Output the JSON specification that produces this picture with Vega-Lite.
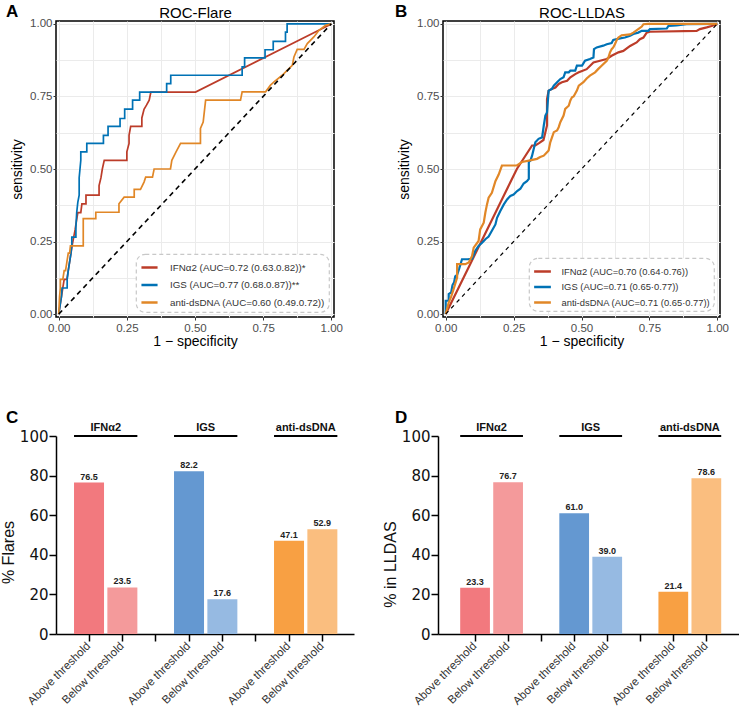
{
"$schema": "https://vega.github.io/schema/vega-lite/v6.json",
"padding": {"left": 0, "top": 2, "right": 0, "bottom": 0},
"bounds": "flush",
"spacing": 415,
"resolve": {"scale": {"color": "independent"}, "legend": {"color": "independent"}},
"config": {
  "font": "Liberation Sans",
  "view": {"stroke": null},
  "axis": {"labelOverlap": false},
  "title": {"anchor": "start", "frame": "group", "fontSize": 17, "fontWeight": "bold", "color": "black", "offset": 0, "font": "Liberation Sans"}
},
"datasets": {
"rocA": [
{"s":"IFNα2","i":0,"x":0,"y":0},{"s":"IFNα2","i":1,"x":0.005,"y":0.03},{"s":"IFNα2","i":2,"x":0.01,"y":0.06},{"s":"IFNα2","i":3,"x":0.015,"y":0.09},{"s":"IFNα2","i":4,"x":0.02,"y":0.12},{"s":"IFNα2","i":5,"x":0.03,"y":0.12},{"s":"IFNα2","i":6,"x":0.035,"y":0.15},{"s":"IFNα2","i":7,"x":0.04,"y":0.18},{"s":"IFNα2","i":8,"x":0.045,"y":0.21},{"s":"IFNα2","i":9,"x":0.05,"y":0.24},{"s":"IFNα2","i":10,"x":0.055,"y":0.265},{"s":"IFNα2","i":11,"x":0.06,"y":0.29},{"s":"IFNα2","i":12,"x":0.065,"y":0.32},{"s":"IFNα2","i":13,"x":0.07,"y":0.35},{"s":"IFNα2","i":14,"x":0.081,"y":0.35},{"s":"IFNα2","i":15,"x":0.085,"y":0.38},{"s":"IFNα2","i":16,"x":0.1,"y":0.38},{"s":"IFNα2","i":17,"x":0.1,"y":0.41},{"s":"IFNα2","i":18,"x":0.148,"y":0.41},{"s":"IFNα2","i":19,"x":0.148,"y":0.443},{"s":"IFNα2","i":20,"x":0.155,"y":0.47},{"s":"IFNα2","i":21,"x":0.16,"y":0.5},{"s":"IFNα2","i":22,"x":0.167,"y":0.53},{"s":"IFNα2","i":23,"x":0.25,"y":0.53},{"s":"IFNα2","i":24,"x":0.25,"y":0.559},{"s":"IFNα2","i":25,"x":0.258,"y":0.588},{"s":"IFNα2","i":26,"x":0.258,"y":0.616},{"s":"IFNα2","i":27,"x":0.264,"y":0.647},{"s":"IFNα2","i":28,"x":0.305,"y":0.647},{"s":"IFNα2","i":29,"x":0.305,"y":0.676},{"s":"IFNα2","i":30,"x":0.313,"y":0.706},{"s":"IFNα2","i":31,"x":0.322,"y":0.72},{"s":"IFNα2","i":32,"x":0.332,"y":0.737},{"s":"IFNα2","i":33,"x":0.338,"y":0.765},{"s":"IFNα2","i":34,"x":0.502,"y":0.765},{"s":"IFNα2","i":35,"x":1,"y":1},
{"s":"IGS","i":0,"x":0,"y":0},{"s":"IGS","i":1,"x":0.005,"y":0.03},{"s":"IGS","i":2,"x":0.01,"y":0.06},{"s":"IGS","i":3,"x":0.012,"y":0.09},{"s":"IGS","i":4,"x":0.031,"y":0.09},{"s":"IGS","i":5,"x":0.031,"y":0.12},{"s":"IGS","i":6,"x":0.035,"y":0.15},{"s":"IGS","i":7,"x":0.04,"y":0.18},{"s":"IGS","i":8,"x":0.045,"y":0.21},{"s":"IGS","i":9,"x":0.048,"y":0.24},{"s":"IGS","i":10,"x":0.048,"y":0.265},{"s":"IGS","i":11,"x":0.063,"y":0.265},{"s":"IGS","i":12,"x":0.063,"y":0.3},{"s":"IGS","i":13,"x":0.066,"y":0.35},{"s":"IGS","i":14,"x":0.07,"y":0.385},{"s":"IGS","i":15,"x":0.075,"y":0.41},{"s":"IGS","i":16,"x":0.075,"y":0.47},{"s":"IGS","i":17,"x":0.078,"y":0.5},{"s":"IGS","i":18,"x":0.081,"y":0.53},{"s":"IGS","i":19,"x":0.081,"y":0.559},{"s":"IGS","i":20,"x":0.103,"y":0.559},{"s":"IGS","i":21,"x":0.103,"y":0.588},{"s":"IGS","i":22,"x":0.164,"y":0.588},{"s":"IGS","i":23,"x":0.164,"y":0.616},{"s":"IGS","i":24,"x":0.181,"y":0.616},{"s":"IGS","i":25,"x":0.181,"y":0.647},{"s":"IGS","i":26,"x":0.225,"y":0.647},{"s":"IGS","i":27,"x":0.225,"y":0.674},{"s":"IGS","i":28,"x":0.242,"y":0.674},{"s":"IGS","i":29,"x":0.242,"y":0.706},{"s":"IGS","i":30,"x":0.271,"y":0.706},{"s":"IGS","i":31,"x":0.271,"y":0.737},{"s":"IGS","i":32,"x":0.297,"y":0.737},{"s":"IGS","i":33,"x":0.297,"y":0.765},{"s":"IGS","i":34,"x":0.396,"y":0.765},{"s":"IGS","i":35,"x":0.396,"y":0.794},{"s":"IGS","i":36,"x":0.411,"y":0.794},{"s":"IGS","i":37,"x":0.411,"y":0.823},{"s":"IGS","i":38,"x":0.673,"y":0.823},{"s":"IGS","i":39,"x":0.673,"y":0.852},{"s":"IGS","i":40,"x":0.682,"y":0.852},{"s":"IGS","i":41,"x":0.682,"y":0.883},{"s":"IGS","i":42,"x":0.757,"y":0.883},{"s":"IGS","i":43,"x":0.757,"y":0.911},{"s":"IGS","i":44,"x":0.787,"y":0.911},{"s":"IGS","i":45,"x":0.787,"y":0.94},{"s":"IGS","i":46,"x":0.832,"y":0.94},{"s":"IGS","i":47,"x":0.832,"y":0.972},{"s":"IGS","i":48,"x":0.838,"y":0.972},{"s":"IGS","i":49,"x":0.838,"y":1},{"s":"IGS","i":50,"x":1,"y":1},
{"s":"anti-dsDNA","i":0,"x":0,"y":0},{"s":"anti-dsDNA","i":1,"x":0.003,"y":0.06},{"s":"anti-dsDNA","i":2,"x":0.006,"y":0.09},{"s":"anti-dsDNA","i":3,"x":0.006,"y":0.12},{"s":"anti-dsDNA","i":4,"x":0.015,"y":0.12},{"s":"anti-dsDNA","i":5,"x":0.02,"y":0.15},{"s":"anti-dsDNA","i":6,"x":0.025,"y":0.15},{"s":"anti-dsDNA","i":7,"x":0.03,"y":0.18},{"s":"anti-dsDNA","i":8,"x":0.035,"y":0.21},{"s":"anti-dsDNA","i":9,"x":0.04,"y":0.21},{"s":"anti-dsDNA","i":10,"x":0.043,"y":0.235},{"s":"anti-dsDNA","i":11,"x":0.09,"y":0.235},{"s":"anti-dsDNA","i":12,"x":0.09,"y":0.329},{"s":"anti-dsDNA","i":13,"x":0.136,"y":0.329},{"s":"anti-dsDNA","i":14,"x":0.136,"y":0.351},{"s":"anti-dsDNA","i":15,"x":0.221,"y":0.351},{"s":"anti-dsDNA","i":16,"x":0.221,"y":0.38},{"s":"anti-dsDNA","i":17,"x":0.24,"y":0.403},{"s":"anti-dsDNA","i":18,"x":0.277,"y":0.403},{"s":"anti-dsDNA","i":19,"x":0.277,"y":0.43},{"s":"anti-dsDNA","i":20,"x":0.3,"y":0.43},{"s":"anti-dsDNA","i":21,"x":0.313,"y":0.455},{"s":"anti-dsDNA","i":22,"x":0.319,"y":0.472},{"s":"anti-dsDNA","i":23,"x":0.344,"y":0.472},{"s":"anti-dsDNA","i":24,"x":0.35,"y":0.5},{"s":"anti-dsDNA","i":25,"x":0.41,"y":0.5},{"s":"anti-dsDNA","i":26,"x":0.415,"y":0.53},{"s":"anti-dsDNA","i":27,"x":0.43,"y":0.558},{"s":"anti-dsDNA","i":28,"x":0.447,"y":0.588},{"s":"anti-dsDNA","i":29,"x":0.52,"y":0.588},{"s":"anti-dsDNA","i":30,"x":0.52,"y":0.64},{"s":"anti-dsDNA","i":31,"x":0.53,"y":0.662},{"s":"anti-dsDNA","i":32,"x":0.539,"y":0.737},{"s":"anti-dsDNA","i":33,"x":0.667,"y":0.737},{"s":"anti-dsDNA","i":34,"x":0.673,"y":0.766},{"s":"anti-dsDNA","i":35,"x":0.759,"y":0.766},{"s":"anti-dsDNA","i":36,"x":0.777,"y":0.789},{"s":"anti-dsDNA","i":37,"x":0.79,"y":0.8},{"s":"anti-dsDNA","i":38,"x":0.82,"y":0.823},{"s":"anti-dsDNA","i":39,"x":0.838,"y":0.84},{"s":"anti-dsDNA","i":40,"x":0.857,"y":0.857},{"s":"anti-dsDNA","i":41,"x":0.863,"y":0.886},{"s":"anti-dsDNA","i":42,"x":0.875,"y":0.912},{"s":"anti-dsDNA","i":43,"x":0.9,"y":0.912},{"s":"anti-dsDNA","i":44,"x":0.912,"y":0.932},{"s":"anti-dsDNA","i":45,"x":0.936,"y":0.955},{"s":"anti-dsDNA","i":46,"x":0.955,"y":0.978},{"s":"anti-dsDNA","i":47,"x":0.979,"y":0.995},{"s":"anti-dsDNA","i":48,"x":1,"y":1}
],
"rocB": [
{"s":"IFNα2","i":0,"x":0,"y":0},{"s":"IFNα2","i":1,"x":0.262,"y":0.5},{"s":"IFNα2","i":2,"x":0.318,"y":0.581},{"s":"IFNα2","i":3,"x":0.33,"y":0.581},{"s":"IFNα2","i":4,"x":0.345,"y":0.59},{"s":"IFNα2","i":5,"x":0.36,"y":0.6},{"s":"IFNα2","i":6,"x":0.367,"y":0.627},{"s":"IFNα2","i":7,"x":0.373,"y":0.65},{"s":"IFNα2","i":8,"x":0.373,"y":0.741},{"s":"IFNα2","i":9,"x":0.379,"y":0.77},{"s":"IFNα2","i":10,"x":0.391,"y":0.776},{"s":"IFNα2","i":11,"x":0.404,"y":0.781},{"s":"IFNα2","i":12,"x":0.416,"y":0.793},{"s":"IFNα2","i":13,"x":0.428,"y":0.799},{"s":"IFNα2","i":14,"x":0.447,"y":0.804},{"s":"IFNα2","i":15,"x":0.459,"y":0.816},{"s":"IFNα2","i":16,"x":0.477,"y":0.827},{"s":"IFNα2","i":17,"x":0.49,"y":0.833},{"s":"IFNα2","i":18,"x":0.502,"y":0.838},{"s":"IFNα2","i":19,"x":0.519,"y":0.844},{"s":"IFNα2","i":20,"x":0.544,"y":0.867},{"s":"IFNα2","i":21,"x":0.568,"y":0.873},{"s":"IFNα2","i":22,"x":0.593,"y":0.879},{"s":"IFNα2","i":23,"x":0.611,"y":0.89},{"s":"IFNα2","i":24,"x":0.636,"y":0.902},{"s":"IFNα2","i":25,"x":0.654,"y":0.907},{"s":"IFNα2","i":26,"x":0.679,"y":0.924},{"s":"IFNα2","i":27,"x":0.703,"y":0.936},{"s":"IFNα2","i":28,"x":0.715,"y":0.947},{"s":"IFNα2","i":29,"x":0.728,"y":0.953},{"s":"IFNα2","i":30,"x":0.74,"y":0.97},{"s":"IFNα2","i":31,"x":0.752,"y":0.973},{"s":"IFNα2","i":32,"x":0.924,"y":0.976},{"s":"IFNα2","i":33,"x":0.936,"y":0.982},{"s":"IFNα2","i":34,"x":0.961,"y":0.988},{"s":"IFNα2","i":35,"x":0.979,"y":0.993},{"s":"IFNα2","i":36,"x":1,"y":1},
{"s":"IGS","i":0,"x":0,"y":0},{"s":"IGS","i":1,"x":0,"y":0.046},{"s":"IGS","i":2,"x":0.011,"y":0.046},{"s":"IGS","i":3,"x":0.011,"y":0.069},{"s":"IGS","i":4,"x":0.02,"y":0.075},{"s":"IGS","i":5,"x":0.025,"y":0.1},{"s":"IGS","i":6,"x":0.031,"y":0.11},{"s":"IGS","i":7,"x":0.035,"y":0.13},{"s":"IGS","i":8,"x":0.042,"y":0.135},{"s":"IGS","i":9,"x":0.049,"y":0.155},{"s":"IGS","i":10,"x":0.06,"y":0.189},{"s":"IGS","i":11,"x":0.08,"y":0.189},{"s":"IGS","i":12,"x":0.097,"y":0.19},{"s":"IGS","i":13,"x":0.109,"y":0.218},{"s":"IGS","i":14,"x":0.121,"y":0.235},{"s":"IGS","i":15,"x":0.134,"y":0.246},{"s":"IGS","i":16,"x":0.146,"y":0.258},{"s":"IGS","i":17,"x":0.158,"y":0.267},{"s":"IGS","i":18,"x":0.17,"y":0.287},{"s":"IGS","i":19,"x":0.183,"y":0.309},{"s":"IGS","i":20,"x":0.189,"y":0.332},{"s":"IGS","i":21,"x":0.201,"y":0.355},{"s":"IGS","i":22,"x":0.214,"y":0.378},{"s":"IGS","i":23,"x":0.226,"y":0.395},{"s":"IGS","i":24,"x":0.238,"y":0.407},{"s":"IGS","i":25,"x":0.25,"y":0.412},{"s":"IGS","i":26,"x":0.263,"y":0.424},{"s":"IGS","i":27,"x":0.275,"y":0.432},{"s":"IGS","i":28,"x":0.287,"y":0.45},{"s":"IGS","i":29,"x":0.299,"y":0.458},{"s":"IGS","i":30,"x":0.306,"y":0.466},{"s":"IGS","i":31,"x":0.306,"y":0.524},{"s":"IGS","i":32,"x":0.312,"y":0.529},{"s":"IGS","i":33,"x":0.318,"y":0.546},{"s":"IGS","i":34,"x":0.324,"y":0.569},{"s":"IGS","i":35,"x":0.33,"y":0.592},{"s":"IGS","i":36,"x":0.342,"y":0.604},{"s":"IGS","i":37,"x":0.355,"y":0.609},{"s":"IGS","i":38,"x":0.361,"y":0.649},{"s":"IGS","i":39,"x":0.367,"y":0.684},{"s":"IGS","i":40,"x":0.373,"y":0.695},{"s":"IGS","i":41,"x":0.379,"y":0.77},{"s":"IGS","i":42,"x":0.391,"y":0.776},{"s":"IGS","i":43,"x":0.398,"y":0.787},{"s":"IGS","i":44,"x":0.41,"y":0.799},{"s":"IGS","i":45,"x":0.422,"y":0.81},{"s":"IGS","i":46,"x":0.434,"y":0.816},{"s":"IGS","i":47,"x":0.44,"y":0.833},{"s":"IGS","i":48,"x":0.453,"y":0.833},{"s":"IGS","i":49,"x":0.459,"y":0.839},{"s":"IGS","i":50,"x":0.477,"y":0.839},{"s":"IGS","i":51,"x":0.483,"y":0.856},{"s":"IGS","i":52,"x":0.502,"y":0.856},{"s":"IGS","i":53,"x":0.513,"y":0.873},{"s":"IGS","i":54,"x":0.531,"y":0.879},{"s":"IGS","i":55,"x":0.544,"y":0.884},{"s":"IGS","i":56,"x":0.546,"y":0.913},{"s":"IGS","i":57,"x":0.556,"y":0.919},{"s":"IGS","i":58,"x":0.58,"y":0.925},{"s":"IGS","i":59,"x":0.593,"y":0.93},{"s":"IGS","i":60,"x":0.611,"y":0.934},{"s":"IGS","i":61,"x":0.617,"y":0.945},{"s":"IGS","i":62,"x":0.642,"y":0.95},{"s":"IGS","i":63,"x":0.66,"y":0.953},{"s":"IGS","i":64,"x":0.679,"y":0.959},{"s":"IGS","i":65,"x":0.691,"y":0.965},{"s":"IGS","i":66,"x":0.709,"y":0.97},{"s":"IGS","i":67,"x":0.722,"y":0.976},{"s":"IGS","i":68,"x":0.746,"y":0.976},{"s":"IGS","i":69,"x":0.752,"y":0.982},{"s":"IGS","i":70,"x":0.814,"y":0.984},{"s":"IGS","i":71,"x":0.82,"y":0.993},{"s":"IGS","i":72,"x":0.85,"y":0.995},{"s":"IGS","i":73,"x":0.887,"y":0.999},{"s":"IGS","i":74,"x":1,"y":1},
{"s":"anti-dsDNA","i":0,"x":0,"y":0},{"s":"anti-dsDNA","i":1,"x":0.011,"y":0.04},{"s":"anti-dsDNA","i":2,"x":0.02,"y":0.06},{"s":"anti-dsDNA","i":3,"x":0.029,"y":0.086},{"s":"anti-dsDNA","i":4,"x":0.042,"y":0.126},{"s":"anti-dsDNA","i":5,"x":0.042,"y":0.172},{"s":"anti-dsDNA","i":6,"x":0.072,"y":0.172},{"s":"anti-dsDNA","i":7,"x":0.085,"y":0.178},{"s":"anti-dsDNA","i":8,"x":0.097,"y":0.2},{"s":"anti-dsDNA","i":9,"x":0.103,"y":0.229},{"s":"anti-dsDNA","i":10,"x":0.121,"y":0.252},{"s":"anti-dsDNA","i":11,"x":0.127,"y":0.292},{"s":"anti-dsDNA","i":12,"x":0.14,"y":0.315},{"s":"anti-dsDNA","i":13,"x":0.146,"y":0.35},{"s":"anti-dsDNA","i":14,"x":0.152,"y":0.378},{"s":"anti-dsDNA","i":15,"x":0.158,"y":0.401},{"s":"anti-dsDNA","i":16,"x":0.17,"y":0.418},{"s":"anti-dsDNA","i":17,"x":0.183,"y":0.458},{"s":"anti-dsDNA","i":18,"x":0.195,"y":0.481},{"s":"anti-dsDNA","i":19,"x":0.207,"y":0.512},{"s":"anti-dsDNA","i":20,"x":0.262,"y":0.512},{"s":"anti-dsDNA","i":21,"x":0.281,"y":0.524},{"s":"anti-dsDNA","i":22,"x":0.306,"y":0.529},{"s":"anti-dsDNA","i":23,"x":0.336,"y":0.535},{"s":"anti-dsDNA","i":24,"x":0.348,"y":0.541},{"s":"anti-dsDNA","i":25,"x":0.361,"y":0.546},{"s":"anti-dsDNA","i":26,"x":0.373,"y":0.558},{"s":"anti-dsDNA","i":27,"x":0.379,"y":0.564},{"s":"anti-dsDNA","i":28,"x":0.385,"y":0.592},{"s":"anti-dsDNA","i":29,"x":0.398,"y":0.627},{"s":"anti-dsDNA","i":30,"x":0.41,"y":0.633},{"s":"anti-dsDNA","i":31,"x":0.416,"y":0.644},{"s":"anti-dsDNA","i":32,"x":0.422,"y":0.661},{"s":"anti-dsDNA","i":33,"x":0.434,"y":0.684},{"s":"anti-dsDNA","i":34,"x":0.44,"y":0.707},{"s":"anti-dsDNA","i":35,"x":0.453,"y":0.718},{"s":"anti-dsDNA","i":36,"x":0.459,"y":0.736},{"s":"anti-dsDNA","i":37,"x":0.465,"y":0.747},{"s":"anti-dsDNA","i":38,"x":0.471,"y":0.75},{"s":"anti-dsDNA","i":39,"x":0.483,"y":0.77},{"s":"anti-dsDNA","i":40,"x":0.49,"y":0.787},{"s":"anti-dsDNA","i":41,"x":0.507,"y":0.799},{"s":"anti-dsDNA","i":42,"x":0.519,"y":0.812},{"s":"anti-dsDNA","i":43,"x":0.531,"y":0.822},{"s":"anti-dsDNA","i":44,"x":0.55,"y":0.833},{"s":"anti-dsDNA","i":45,"x":0.562,"y":0.845},{"s":"anti-dsDNA","i":46,"x":0.574,"y":0.856},{"s":"anti-dsDNA","i":47,"x":0.593,"y":0.873},{"s":"anti-dsDNA","i":48,"x":0.599,"y":0.884},{"s":"anti-dsDNA","i":49,"x":0.605,"y":0.902},{"s":"anti-dsDNA","i":50,"x":0.611,"y":0.913},{"s":"anti-dsDNA","i":51,"x":0.617,"y":0.919},{"s":"anti-dsDNA","i":52,"x":0.623,"y":0.93},{"s":"anti-dsDNA","i":53,"x":0.63,"y":0.945},{"s":"anti-dsDNA","i":54,"x":0.636,"y":0.953},{"s":"anti-dsDNA","i":55,"x":0.648,"y":0.961},{"s":"anti-dsDNA","i":56,"x":0.679,"y":0.964},{"s":"anti-dsDNA","i":57,"x":0.691,"y":0.97},{"s":"anti-dsDNA","i":58,"x":0.709,"y":0.982},{"s":"anti-dsDNA","i":59,"x":0.722,"y":0.991},{"s":"anti-dsDNA","i":60,"x":0.728,"y":0.999},{"s":"anti-dsDNA","i":61,"x":0.746,"y":1},{"s":"anti-dsDNA","i":62,"x":1,"y":1}
],
"barC": [
{"cat":"IFNα2|Above","v":76.5},{"cat":"IFNα2|Below","v":23.5},{"cat":"IGS|Above","v":82.2},{"cat":"IGS|Below","v":17.6},{"cat":"anti-dsDNA|Above","v":47.1},{"cat":"anti-dsDNA|Below","v":52.9}
],
"barD": [
{"cat":"IFNα2|Above","v":23.3},{"cat":"IFNα2|Below","v":76.7},{"cat":"IGS|Above","v":61.0},{"cat":"IGS|Below","v":39.0},{"cat":"anti-dsDNA|Above","v":21.4},{"cat":"anti-dsDNA|Below","v":78.6}
],
"groups": [
{"g":"IFNα2","a":"IFNα2|Above","b":"IFNα2|Below"},{"g":"IGS","a":"IGS|Above","b":"IGS|Below"},{"g":"anti-dsDNA","a":"anti-dsDNA|Above","b":"anti-dsDNA|Below"}
]
},
"vconcat": [
{
"bounds": "flush",
"spacing": 109,
"resolve": {"scale": {"color": "independent"}, "legend": {"color": "independent"}},
"hconcat": [
{
"width": 278, "height": 296,
"view": {"stroke": "black", "strokeWidth": 1.5},
"title": {"text": "A", "dx": -50, "dy": 13, "offset": -3},
"resolve": {"axis": {"x": "independent"}},
"layer": [
{
"data": {"name": "rocA"},
"mark": {"type": "line", "strokeWidth": 1.7},
"encoding": {
"x": {"field": "x", "type": "quantitative", "scale": {"domain": [-0.01, 1.01], "nice": false, "zero": false},
 "axis": {"title": "1 − specificity", "values": [0,0.125,0.25,0.375,0.5,0.625,0.75,0.875,1], "labelExpr": "datum.value % 0.25 === 0 ? format(datum.value, '.2f') : ''", "grid": true, "gridColor": "#EBEBEB", "gridWidth": 1, "domain": false, "tickSize": 3, "tickWidth": 1, "tickColor": {"condition": {"test": "datum.value % 0.25 !== 0", "value": "rgba(0,0,0,0)"}, "value": "#333333"}, "labelFontSize": 11.5, "labelColor": "#4D4D4D", "labelPadding": 2, "labelFlush": false, "labelOverlap": false, "titleFontSize": 14, "titleFontWeight": "normal", "titleColor": "black", "titlePadding": 1}},
"y": {"field": "y", "type": "quantitative", "scale": {"domain": [-0.01, 1.01], "nice": false, "zero": false},
 "axis": {"title": "sensitivity", "values": [0,0.125,0.25,0.375,0.5,0.625,0.75,0.875,1], "labelExpr": "datum.value % 0.25 === 0 ? format(datum.value, '.2f') : ''", "grid": true, "gridColor": "#EBEBEB", "gridWidth": 1, "domain": false, "tickSize": 3, "tickWidth": 1, "tickColor": {"condition": {"test": "datum.value % 0.25 !== 0", "value": "rgba(0,0,0,0)"}, "value": "#333333"}, "labelFontSize": 11.5, "labelColor": "#4D4D4D", "labelPadding": 1, "labelFlush": false, "labelOverlap": false, "titleFontSize": 14, "titleFontWeight": "normal", "titleColor": "black", "titlePadding": 5}},
"color": {"field": "s", "type": "nominal", "scale": {"domain": ["IFNα2", "IGS", "anti-dsDNA"], "range": ["#BC3C29", "#0072B5", "#E18727"]},
 "legend": {"orient": "bottom-right", "title": null, "offset": 5, "padding": 4, "strokeColor": "#C8C8C8", "cornerRadius": 9, "fillColor": "white", "symbolType": "stroke", "symbolStrokeWidth": 2.5, "symbolSize": 260, "labelFontSize": 9.8, "labelLimit": 400, "labelColor": "#333333", "rowPadding": 2.5, "labelOffset": 11,
  "encode": {"legend": {"update": {"strokeDash": {"value": [4, 3]}, "strokeWidth": {"value": 1.2}}}},
  "labelExpr": "datum.label === 'IFNα2' ? 'IFNα2 (AUC=0.72 (0.63.0.82))*' : (datum.label === 'IGS' ? 'IGS (AUC=0.77 (0.68.0.87))**' : 'anti-dsDNA (AUC=0.60 (0.49.0.72))')"}},
"order": {"field": "i", "type": "quantitative"}
}
},
{
"data": {"values": [{}]},
"mark": {"type": "rule", "strokeDash": [5, 4], "strokeWidth": 1.6, "color": "black"},
"encoding": {
"x": {"datum": 0, "type": "quantitative", "axis": {"orient": "top", "title": "ROC-Flare", "labels": false, "ticks": false, "domain": false, "grid": false, "titleFontSize": 15, "titleFontWeight": "normal", "titleColor": "black", "titlePadding": 1}},
"y": {"datum": 0, "type": "quantitative",
 "axis": {"title": "sensitivity", "values": [0,0.125,0.25,0.375,0.5,0.625,0.75,0.875,1], "labelExpr": "datum.value % 0.25 === 0 ? format(datum.value, '.2f') : ''", "grid": true, "gridColor": "#EBEBEB", "gridWidth": 1, "domain": false, "tickSize": 3, "tickWidth": 1, "tickColor": {"condition": {"test": "datum.value % 0.25 !== 0", "value": "rgba(0,0,0,0)"}, "value": "#333333"}, "labelFontSize": 11.5, "labelColor": "#4D4D4D", "labelPadding": 1, "labelFlush": false, "labelOverlap": false, "titleFontSize": 14, "titleFontWeight": "normal", "titleColor": "black", "titlePadding": 5}},
"x2": {"datum": 1},
"y2": {"datum": 1}
}
}
]
},
{
"width": 277, "height": 296,
"view": {"stroke": "black", "strokeWidth": 1.5},
"title": {"text": "B", "dx": -48, "dy": 13, "offset": -3},
"resolve": {"axis": {"x": "independent"}},
"layer": [
{
"data": {"name": "rocB"},
"mark": {"type": "line", "strokeWidth": 2.2},
"encoding": {
"x": {"field": "x", "type": "quantitative", "scale": {"domain": [-0.01, 1.01], "nice": false, "zero": false},
 "axis": {"title": "1 − specificity", "values": [0,0.125,0.25,0.375,0.5,0.625,0.75,0.875,1], "labelExpr": "datum.value % 0.25 === 0 ? format(datum.value, '.2f') : ''", "grid": true, "gridColor": "#EBEBEB", "gridWidth": 1, "domain": false, "tickSize": 3, "tickWidth": 1, "tickColor": {"condition": {"test": "datum.value % 0.25 !== 0", "value": "rgba(0,0,0,0)"}, "value": "#333333"}, "labelFontSize": 11.5, "labelColor": "#4D4D4D", "labelPadding": 2, "labelFlush": false, "labelOverlap": false, "titleFontSize": 14, "titleFontWeight": "normal", "titleColor": "black", "titlePadding": 1}},
"y": {"field": "y", "type": "quantitative", "scale": {"domain": [-0.01, 1.01], "nice": false, "zero": false},
 "axis": {"title": "sensitivity", "values": [0,0.125,0.25,0.375,0.5,0.625,0.75,0.875,1], "labelExpr": "datum.value % 0.25 === 0 ? format(datum.value, '.2f') : ''", "grid": true, "gridColor": "#EBEBEB", "gridWidth": 1, "domain": false, "tickSize": 3, "tickWidth": 1, "tickColor": {"condition": {"test": "datum.value % 0.25 !== 0", "value": "rgba(0,0,0,0)"}, "value": "#333333"}, "labelFontSize": 11.5, "labelColor": "#4D4D4D", "labelPadding": 1, "labelFlush": false, "labelOverlap": false, "titleFontSize": 14, "titleFontWeight": "normal", "titleColor": "black", "titlePadding": 5}},
"color": {"field": "s", "type": "nominal", "scale": {"domain": ["IFNα2", "IGS", "anti-dsDNA"], "range": ["#BC3C29", "#0072B5", "#E18727"]},
 "legend": {"orient": "bottom-right", "title": null, "offset": 6, "padding": 3.5, "strokeColor": "#C8C8C8", "cornerRadius": 9, "fillColor": "white", "symbolType": "stroke", "symbolStrokeWidth": 2.5, "symbolSize": 280, "labelFontSize": 9.4, "labelLimit": 400, "labelColor": "#333333", "rowPadding": 0.5, "labelOffset": 9,
  "encode": {"legend": {"update": {"strokeDash": {"value": [4, 3]}, "strokeWidth": {"value": 1.2}}}},
  "labelExpr": "datum.label === 'IFNα2' ? 'IFNα2 (AUC=0.70 (0.64·0.76))' : (datum.label === 'IGS' ? 'IGS (AUC=0.71 (0.65·0.77))' : 'anti-dsDNA (AUC=0.71 (0.65·0.77))')"}},
"order": {"field": "i", "type": "quantitative"}
}
},
{
"data": {"values": [{}]},
"mark": {"type": "rule", "strokeDash": [4, 4], "strokeWidth": 1.2, "color": "black"},
"encoding": {
"x": {"datum": 0, "type": "quantitative", "axis": {"orient": "top", "title": "ROC-LLDAS", "labels": false, "ticks": false, "domain": false, "grid": false, "titleFontSize": 15, "titleFontWeight": "normal", "titleColor": "black", "titlePadding": 1}},
"y": {"datum": 0, "type": "quantitative",
 "axis": {"title": "sensitivity", "values": [0,0.125,0.25,0.375,0.5,0.625,0.75,0.875,1], "labelExpr": "datum.value % 0.25 === 0 ? format(datum.value, '.2f') : ''", "grid": true, "gridColor": "#EBEBEB", "gridWidth": 1, "domain": false, "tickSize": 3, "tickWidth": 1, "tickColor": {"condition": {"test": "datum.value % 0.25 !== 0", "value": "rgba(0,0,0,0)"}, "value": "#333333"}, "labelFontSize": 11.5, "labelColor": "#4D4D4D", "labelPadding": 1, "labelFlush": false, "labelOverlap": false, "titleFontSize": 14, "titleFontWeight": "normal", "titleColor": "black", "titlePadding": 5}},
"x2": {"datum": 1},
"y2": {"datum": 1}
}
}
]
}
]
},
{
"bounds": "flush",
"spacing": 84,
"hconcat": [
{
"width": 298, "height": 198,
"title": {"text": "C", "dx": -50, "dy": 6, "offset": 1},
"layer": [
{
"data": {"name": "barC"},
"mark": {"type": "bar"},
"encoding": {
"x": {"field": "cat", "type": "nominal", "title": null, "scale": {"type": "band", "domain": ["IFNα2|Above","IFNα2|Below","gap1","IGS|Above","IGS|Below","gap2","anti-dsDNA|Above","anti-dsDNA|Below"], "paddingInner": 0.1, "paddingOuter": 0.52, "align": 0.52},
 "axis": {"labelExpr": "indexof(datum.value, '|Above') >= 0 ? 'Above threshold' : (indexof(datum.value, '|Below') >= 0 ? 'Below threshold' : '')", "labelAngle": -45, "labelAlign": "right", "labelBaseline": "middle", "labelFontSize": 11.5, "labelColor": "#333333", "labelPadding": 3, "tickSize": 7, "tickWidth": 1.5, "tickColor": "black", "domainColor": "black", "domainWidth": 1.5, "grid": false, "labelOverlap": false, "labelBound": false}},
"y": {"field": "v", "type": "quantitative", "scale": {"domain": [0, 100], "nice": false},
 "axis": {"title": "% Flares", "titleY": 116, "values": [0,20,40,60,80,100], "tickCount": 6, "grid": false, "domainColor": "black", "domainWidth": 1.5, "tickColor": "black", "tickWidth": 1.5, "tickSize": 7, "labelFont": "DejaVu Sans", "labelFontSize": 15, "labelColor": "#111111", "labelPadding": 1, "labelFlush": false, "labelOverlap": false, "labelBound": false, "titleFontSize": 16, "titleFontWeight": "normal", "titleColor": "#111111", "titlePadding": 3}},
"color": {"field": "cat", "type": "nominal", "scale": {"domain": ["IFNα2|Above","IFNα2|Below","IGS|Above","IGS|Below","anti-dsDNA|Above","anti-dsDNA|Below"], "range": ["#F2797E","#F49A9B","#6498D1","#96BAE2","#F8A043","#FABE7F"]}, "legend": null}
}
},
{
"data": {"name": "barC"},
"mark": {"type": "text", "fontSize": 9, "fontWeight": "bold", "color": "#222222", "dy": -3, "baseline": "alphabetic"},
"encoding": {
"x": {"field": "cat", "type": "nominal", "title": null, "scale": {"type": "band", "domain": ["IFNα2|Above","IFNα2|Below","gap1","IGS|Above","IGS|Below","gap2","anti-dsDNA|Above","anti-dsDNA|Below"], "paddingInner": 0.1, "paddingOuter": 0.52, "align": 0.52}},
"y": {"field": "v", "type": "quantitative",
 "axis": {"title": "% Flares", "titleY": 116, "values": [0,20,40,60,80,100], "tickCount": 6, "grid": false, "domainColor": "black", "domainWidth": 1.5, "tickColor": "black", "tickWidth": 1.5, "tickSize": 7, "labelFont": "DejaVu Sans", "labelFontSize": 15, "labelColor": "#111111", "labelPadding": 1, "labelFlush": false, "labelOverlap": false, "labelBound": false, "titleFontSize": 16, "titleFontWeight": "normal", "titleColor": "#111111", "titlePadding": 3}},
"text": {"field": "v", "type": "quantitative", "format": ".1f"}
}
},
{
"data": {"name": "groups"},
"mark": {"type": "rule", "strokeWidth": 1.8, "color": "black"},
"encoding": {
"x": {"field": "a", "type": "nominal", "title": null, "bandPosition": 0, "scale": {"type": "band", "domain": ["IFNα2|Above","IFNα2|Below","gap1","IGS|Above","IGS|Below","gap2","anti-dsDNA|Above","anti-dsDNA|Below"], "paddingInner": 0.1, "paddingOuter": 0.52, "align": 0.52}},
"x2": {"field": "b", "bandPosition": 1},
"y": {"datum": 100, "type": "quantitative",
 "axis": {"title": "% Flares", "titleY": 116, "values": [0,20,40,60,80,100], "tickCount": 6, "grid": false, "domainColor": "black", "domainWidth": 1.5, "tickColor": "black", "tickWidth": 1.5, "tickSize": 7, "labelFont": "DejaVu Sans", "labelFontSize": 15, "labelColor": "#111111", "labelPadding": 1, "labelFlush": false, "labelOverlap": false, "labelBound": false, "titleFontSize": 16, "titleFontWeight": "normal", "titleColor": "#111111", "titlePadding": 3}}
}
},
{
"data": {"name": "groups"},
"mark": {"type": "text", "fontSize": 11, "fontWeight": "bold", "color": "#111111", "dy": -5, "baseline": "alphabetic"},
"encoding": {
"x": {"field": "a", "type": "nominal", "title": null, "bandPosition": 1.056, "scale": {"type": "band", "domain": ["IFNα2|Above","IFNα2|Below","gap1","IGS|Above","IGS|Below","gap2","anti-dsDNA|Above","anti-dsDNA|Below"], "paddingInner": 0.1, "paddingOuter": 0.52, "align": 0.52}},
"y": {"datum": 100, "type": "quantitative",
 "axis": {"title": "% Flares", "titleY": 116, "values": [0,20,40,60,80,100], "tickCount": 6, "grid": false, "domainColor": "black", "domainWidth": 1.5, "tickColor": "black", "tickWidth": 1.5, "tickSize": 7, "labelFont": "DejaVu Sans", "labelFontSize": 15, "labelColor": "#111111", "labelPadding": 1, "labelFlush": false, "labelOverlap": false, "labelBound": false, "titleFontSize": 16, "titleFontWeight": "normal", "titleColor": "#111111", "titlePadding": 3}},
"text": {"field": "g"}
}
}
]
},
{
"width": 301, "height": 198,
"title": {"text": "D", "dx": -43, "dy": 6, "offset": 1},
"layer": [
{
"data": {"name": "barD"},
"mark": {"type": "bar"},
"encoding": {
"x": {"field": "cat", "type": "nominal", "title": null, "scale": {"type": "band", "domain": ["IFNα2|Above","IFNα2|Below","gap1","IGS|Above","IGS|Below","gap2","anti-dsDNA|Above","anti-dsDNA|Below"], "paddingInner": 0.1, "paddingOuter": 0.605, "align": 0.555},
 "axis": {"labelExpr": "indexof(datum.value, '|Above') >= 0 ? 'Above threshold' : (indexof(datum.value, '|Below') >= 0 ? 'Below threshold' : '')", "labelAngle": -45, "labelAlign": "right", "labelBaseline": "middle", "labelFontSize": 11.5, "labelColor": "#333333", "labelPadding": 3, "tickSize": 7, "tickWidth": 1.5, "tickColor": "black", "domainColor": "black", "domainWidth": 1.5, "grid": false, "labelOverlap": false, "labelBound": false}},
"y": {"field": "v", "type": "quantitative", "scale": {"domain": [0, 100], "nice": false},
 "axis": {"title": "% in LLDAS", "titleY": 128, "values": [0,20,40,60,80,100], "tickCount": 6, "grid": false, "domainColor": "black", "domainWidth": 1.5, "tickColor": "black", "tickWidth": 1.5, "tickSize": 7, "labelFont": "DejaVu Sans", "labelFontSize": 15, "labelColor": "#111111", "labelPadding": 1, "labelFlush": false, "labelOverlap": false, "labelBound": false, "titleFontSize": 16, "titleFontWeight": "normal", "titleColor": "#111111", "titlePadding": 3}},
"color": {"field": "cat", "type": "nominal", "scale": {"domain": ["IFNα2|Above","IFNα2|Below","IGS|Above","IGS|Below","anti-dsDNA|Above","anti-dsDNA|Below"], "range": ["#F2797E","#F49A9B","#6498D1","#96BAE2","#F8A043","#FABE7F"]}, "legend": null}
}
},
{
"data": {"name": "barD"},
"mark": {"type": "text", "fontSize": 9, "fontWeight": "bold", "color": "#222222", "dy": -3, "baseline": "alphabetic"},
"encoding": {
"x": {"field": "cat", "type": "nominal", "title": null, "scale": {"type": "band", "domain": ["IFNα2|Above","IFNα2|Below","gap1","IGS|Above","IGS|Below","gap2","anti-dsDNA|Above","anti-dsDNA|Below"], "paddingInner": 0.1, "paddingOuter": 0.605, "align": 0.555}},
"y": {"field": "v", "type": "quantitative",
 "axis": {"title": "% in LLDAS", "titleY": 128, "values": [0,20,40,60,80,100], "tickCount": 6, "grid": false, "domainColor": "black", "domainWidth": 1.5, "tickColor": "black", "tickWidth": 1.5, "tickSize": 7, "labelFont": "DejaVu Sans", "labelFontSize": 15, "labelColor": "#111111", "labelPadding": 1, "labelFlush": false, "labelOverlap": false, "labelBound": false, "titleFontSize": 16, "titleFontWeight": "normal", "titleColor": "#111111", "titlePadding": 3}},
"text": {"field": "v", "type": "quantitative", "format": ".1f"}
}
},
{
"data": {"name": "groups"},
"mark": {"type": "rule", "strokeWidth": 1.8, "color": "black"},
"encoding": {
"x": {"field": "a", "type": "nominal", "title": null, "bandPosition": 0, "scale": {"type": "band", "domain": ["IFNα2|Above","IFNα2|Below","gap1","IGS|Above","IGS|Below","gap2","anti-dsDNA|Above","anti-dsDNA|Below"], "paddingInner": 0.1, "paddingOuter": 0.605, "align": 0.555}},
"x2": {"field": "b", "bandPosition": 1},
"y": {"datum": 100, "type": "quantitative",
 "axis": {"title": "% in LLDAS", "titleY": 128, "values": [0,20,40,60,80,100], "tickCount": 6, "grid": false, "domainColor": "black", "domainWidth": 1.5, "tickColor": "black", "tickWidth": 1.5, "tickSize": 7, "labelFont": "DejaVu Sans", "labelFontSize": 15, "labelColor": "#111111", "labelPadding": 1, "labelFlush": false, "labelOverlap": false, "labelBound": false, "titleFontSize": 16, "titleFontWeight": "normal", "titleColor": "#111111", "titlePadding": 3}}
}
},
{
"data": {"name": "groups"},
"mark": {"type": "text", "fontSize": 11, "fontWeight": "bold", "color": "#111111", "dy": -5, "baseline": "alphabetic"},
"encoding": {
"x": {"field": "a", "type": "nominal", "title": null, "bandPosition": 1.056, "scale": {"type": "band", "domain": ["IFNα2|Above","IFNα2|Below","gap1","IGS|Above","IGS|Below","gap2","anti-dsDNA|Above","anti-dsDNA|Below"], "paddingInner": 0.1, "paddingOuter": 0.605, "align": 0.555}},
"y": {"datum": 100, "type": "quantitative",
 "axis": {"title": "% in LLDAS", "titleY": 128, "values": [0,20,40,60,80,100], "tickCount": 6, "grid": false, "domainColor": "black", "domainWidth": 1.5, "tickColor": "black", "tickWidth": 1.5, "tickSize": 7, "labelFont": "DejaVu Sans", "labelFontSize": 15, "labelColor": "#111111", "labelPadding": 1, "labelFlush": false, "labelOverlap": false, "labelBound": false, "titleFontSize": 16, "titleFontWeight": "normal", "titleColor": "#111111", "titlePadding": 3}},
"text": {"field": "g"}
}
}
]
}
]
}
]
}
